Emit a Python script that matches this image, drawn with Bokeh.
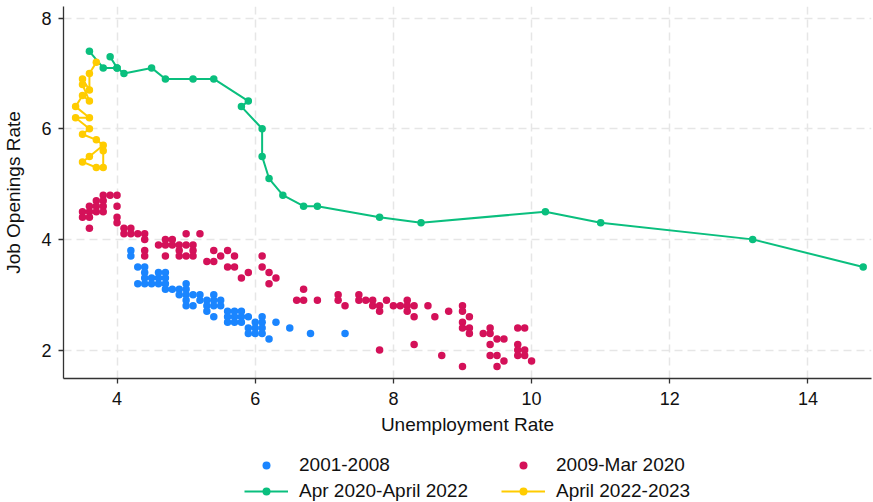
from bokeh.plotting import figure
from bokeh.layouts import column
from bokeh.models import Legend, LegendItem, Range1d, FixedTicker
from bokeh.embed import file_html
from bokeh.resources import INLINE

# Beveridge curve: unemployment rate (x) vs. job openings rate (y)

# 2001-2008
u_2001_2008 = [4.2, 4.2, 4.3, 4.4, 4.4, 4.6, 4.7, 4.4, 4.5, 4.6, 4.7,
               4.3, 4.4, 4.5, 4.6, 4.7, 5.0, 4.7, 4.8, 4.9, 5.0,
               4.9, 5.0, 5.1, 5.2, 5.4, 5.0, 5.2, 5.3, 5.4, 5.5,
               5.0, 5.1, 5.3, 5.4, 5.5, 5.3, 5.4,
               5.6, 5.7, 5.8, 5.6, 5.7, 5.8, 5.9, 5.6, 5.7, 5.8,
               5.9, 5.9, 6.0, 6.0, 6.0, 6.1, 6.1, 6.1, 6.1,
               6.2, 6.3, 6.5, 6.8, 7.3]
jo_2001_2008 = [3.8, 3.7, 3.5, 3.5, 3.4, 3.4, 3.4, 3.3, 3.3, 3.3, 3.3,
                3.2, 3.2, 3.2, 3.2, 3.2, 3.2, 3.1, 3.1, 3.1, 3.1,
                3.0, 3.0, 3.0, 3.0, 3.0, 2.9, 2.9, 2.9, 2.9, 2.9,
                2.8, 2.8, 2.8, 2.8, 2.8, 2.7, 2.6,
                2.7, 2.7, 2.7, 2.6, 2.6, 2.6, 2.6, 2.5, 2.5, 2.5,
                2.4, 2.3, 2.5, 2.4, 2.3, 2.6, 2.5, 2.4, 2.3,
                2.2, 2.5, 2.4, 2.3, 2.3]

# 2009-Mar 2020
u_2009_2020 = [3.8, 3.9, 4.0, 3.7, 3.8, 3.6, 3.7, 3.8, 4.0, 3.5, 3.6, 3.7, 3.8,
               3.5, 3.6, 4.0, 4.0, 3.6, 4.1, 4.2, 4.1, 4.2, 4.3, 4.4, 4.4,
               5.0, 5.2, 4.7, 4.8, 4.6, 4.7, 4.8, 4.9, 5.0, 5.1, 4.4, 4.4,
               4.9, 5.1, 4.7, 4.9, 5.0, 5.1, 5.4, 5.6, 5.5, 5.7, 5.3, 5.4,
               5.6, 5.7, 5.9, 5.8,
               6.1, 6.1, 6.2, 6.3, 6.2, 6.7, 6.6, 6.7, 6.9, 7.2, 7.2, 7.3,
               7.5, 7.5, 7.6, 7.7, 7.7, 7.8, 7.8, 7.9, 8.0, 8.1, 8.2, 8.2,
               8.2, 8.3, 8.3, 8.5, 8.6, 8.8, 9.0, 9.0, 9.1, 9.0, 9.0, 9.1,
               9.1, 9.3, 9.4, 9.4, 9.4, 9.5, 9.6, 9.4, 9.5, 9.6, 9.5, 9.8,
               9.9, 9.8, 9.8, 9.9, 9.8, 9.9, 10.0, 7.8, 8.3, 8.7, 9.0]
jo_2009_2020 = [4.8, 4.8, 4.8, 4.7, 4.7, 4.6, 4.6, 4.6, 4.6, 4.5, 4.5, 4.5, 4.5,
                4.4, 4.4, 4.4, 4.3, 4.2, 4.2, 4.2, 4.1, 4.1, 4.1, 4.1, 4.0,
                4.1, 4.1, 4.0, 4.0, 3.9, 3.9, 3.9, 3.9, 3.9, 3.9, 3.8, 3.7,
                3.8, 3.8, 3.7, 3.7, 3.7, 3.7, 3.8, 3.8, 3.7, 3.7, 3.6, 3.6,
                3.5, 3.5, 3.4, 3.3,
                3.7, 3.5, 3.4, 3.3, 3.2, 3.1, 2.9, 2.9, 2.9, 3.0, 2.9, 2.8,
                3.0, 2.9, 2.9, 2.9, 2.8, 2.8, 2.7, 2.9, 2.8, 2.8, 2.9, 2.8,
                2.7, 2.8, 2.6, 2.8, 2.6, 2.7, 2.8, 2.7, 2.6, 2.5, 2.4, 2.4,
                2.3, 2.3, 2.4, 2.3, 2.1, 2.2, 2.2, 1.9, 1.9, 1.8, 1.7, 2.4,
                2.4, 2.1, 2.0, 2.0, 1.9, 1.9, 1.8, 2.0, 2.1, 1.9, 1.7]

# Apr 2020-April 2022 (monthly path)
u_2020_2022 = [14.8, 13.2, 11.0, 10.2, 8.4, 7.8, 6.9, 6.7, 6.4, 6.2, 6.1, 6.1,
               5.8, 5.9, 5.4, 5.1, 4.7, 4.5, 4.1, 4.0, 3.9, 4.0, 3.8, 3.6]
jo_2020_2022 = [3.5, 4.0, 4.3, 4.5, 4.3, 4.4, 4.6, 4.6, 4.8, 5.1, 5.5, 6.0,
                6.4, 6.5, 6.9, 6.9, 6.9, 7.1, 7.0, 7.1, 7.3, 7.1, 7.1, 7.4]

# April 2022-2023 (monthly path)
u_2022_2023 = [3.7, 3.6, 3.6, 3.5, 3.5, 3.6, 3.5, 3.4, 3.6, 3.4,
               3.6, 3.5, 3.7, 3.8, 3.6, 3.5, 3.7, 3.8, 3.8]
jo_2022_2023 = [7.2, 7.0, 6.7, 6.9, 6.8, 6.5, 6.6, 6.4, 6.2, 6.2,
                6.0, 5.9, 5.8, 5.7, 5.5, 5.4, 5.3, 5.3, 5.6]

series_labels = ["2001-2008", "2009-Mar 2020", "Apr 2020-April 2022", "April 2022-2023"]

x_ticks = [4, 6, 8, 10, 12, 14]
y_ticks = [2, 4, 6, 8]

BLUE = "#1A85FF"
RED = "#D41159"
GREEN = "#0ABF7E"
YELLOW = "#FFCC00"
FONT = "Liberation Sans"
DOT = 7.5

# ---- main chart ----
p = figure(width=873, height=440, output_backend="svg", toolbar_location=None,
           x_range=Range1d(3.225, 14.92), y_range=Range1d(1.485, 8.21),
           min_border_left=62, min_border_right=2, min_border_top=6,
           min_border_bottom=62)
p.outline_line_color = None
p.background_fill_color = "white"

for ax in (p.xaxis[0], p.yaxis[0]):
    ax.major_tick_out = 5
    ax.major_tick_in = 0
    ax.minor_tick_line_color = None
    ax.axis_line_color = "#333333"
    ax.axis_line_width = 1.3
    ax.major_tick_line_color = "#333333"
    ax.major_tick_line_width = 1.3
    ax.major_label_text_font = FONT
    ax.major_label_text_font_size = "18px"
    ax.major_label_text_color = "#111111"
    ax.axis_label_text_font = FONT
    ax.axis_label_text_font_size = "19px"
    ax.axis_label_text_font_style = "normal"
    ax.axis_label_text_color = "#111111"

p.xaxis.ticker = FixedTicker(ticks=x_ticks)
p.yaxis.ticker = FixedTicker(ticks=y_ticks)
p.xaxis.axis_label = "Unemployment Rate"
p.yaxis.axis_label = "Job Openings Rate"
p.xaxis.major_label_standoff = 8
p.yaxis.major_label_standoff = 7
p.xaxis.axis_label_standoff = 6
p.yaxis.axis_label_standoff = 14

for g in (p.xgrid[0], p.ygrid[0]):
    g.grid_line_color = "#e6e6e6"
    g.grid_line_width = 1.5
    g.grid_line_dash = "8 5"

p.scatter(u_2001_2008, jo_2001_2008, size=DOT, color=BLUE, line_color=None)
p.scatter(u_2009_2020, jo_2009_2020, size=DOT, color=RED, line_color=None)
p.line(u_2020_2022, jo_2020_2022, line_width=2, color=GREEN)
p.scatter(u_2020_2022, jo_2020_2022, size=DOT, color=GREEN, line_color=None)
p.line(u_2022_2023, jo_2022_2023, line_width=2, color=YELLOW)
p.scatter(u_2022_2023, jo_2022_2023, size=DOT, color=YELLOW, line_color=None)

# ---- key strip underneath, two columns ----
# The strip's own ranges sit far from the data, so its renderers only
# supply the key swatches and draw nothing inside the strip itself.
# Its frame lines up with the main chart's frame in the column layout.
k = figure(width=873, height=62, output_backend="svg", toolbar_location=None,
           x_axis_location=None, y_axis_location=None,
           x_range=Range1d(100, 101), y_range=Range1d(100, 101),
           min_border_left=0, min_border_right=0, min_border_top=0,
           min_border_bottom=0)
k.grid.visible = False
k.outline_line_color = None

kb = k.scatter(u_2001_2008, jo_2001_2008, size=DOT, color=BLUE, line_color=None)
kr = k.scatter(u_2009_2020, jo_2009_2020, size=DOT, color=RED, line_color=None)
kgl = k.line(u_2020_2022, jo_2020_2022, line_width=2, color=GREEN)
kgs = k.scatter(u_2020_2022, jo_2020_2022, size=DOT, color=GREEN, line_color=None)
kyl = k.line(u_2022_2023, jo_2022_2023, line_width=2, color=YELLOW)
kys = k.scatter(u_2022_2023, jo_2022_2023, size=DOT, color=YELLOW, line_color=None)

legend = Legend(items=[
    LegendItem(label=series_labels[0], renderers=[kb]),
    LegendItem(label=series_labels[1], renderers=[kr]),
    LegendItem(label=series_labels[2], renderers=[kgl, kgs]),
    LegendItem(label=series_labels[3], renderers=[kyl, kys]),
], orientation="horizontal", ncols=2, location=(181, 0))
legend.glyph_width = 44
legend.glyph_height = 20
legend.label_standoff = 11
legend.label_width = 198
legend.label_text_font = FONT
legend.label_text_font_size = "19px"
legend.label_text_color = "#111111"
legend.spacing = 4
legend.padding = 0
legend.margin = 0
legend.border_line_color = None
legend.background_fill_alpha = 0
k.add_layout(legend)

open("out.html", "w").write(file_html(column(p, k, spacing=0), INLINE))
